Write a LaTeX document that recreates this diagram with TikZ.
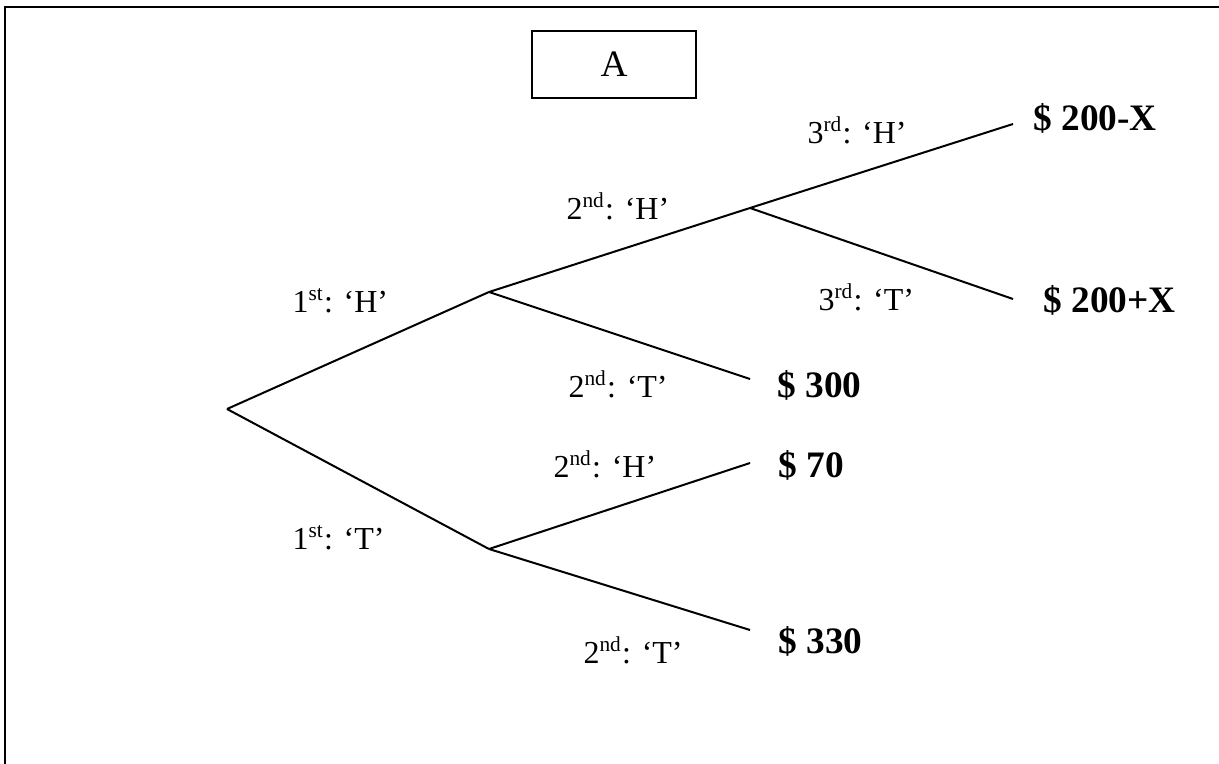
\documentclass[tikz,border=0pt]{standalone}
\usepackage{fontspec}
\setmainfont{Liberation Serif}
\begin{document}
\begin{tikzpicture}[x=0.375pt,y=-0.375pt,
  branch/.style={line width=0.75pt},
  lbl/.style={anchor=base west,inner sep=0pt,font=\fontsize{12}{14}\selectfont},
  pay/.style={anchor=base west,inner sep=0pt,font=\fontsize{14}{16}\selectfont\bfseries},
  framebox/.style={line width=0.8pt},
  titlebox/.style={draw,line width=0.6pt,minimum width=61.5pt,minimum height=25pt,inner sep=0pt,font=\fontsize{14}{16}\selectfont}]
\useasboundingbox (0,0) rectangle (1219,764);
% outer frame (top and left edges only)
\coordinate (fbl) at (5,764);
\coordinate (ftl) at (5,7);
\coordinate (ftr) at (1219,7);
\draw[framebox] (fbl) -- (ftl) -- (ftr);
% title box
\node[titlebox] (boxA) at (614,64.5) {A};
% tree points
\coordinate (root) at (227,409);
\coordinate (h1) at (489,292);
\coordinate (t1) at (489,549);
\coordinate (h2) at (750,208);
\coordinate (e3h) at (1013,124);
\coordinate (e3t) at (1013,299);
\coordinate (e2t) at (750,379);
\coordinate (e2h) at (750,463);
\coordinate (e2tt) at (750,630);
\draw[branch] (root) -- (h1);
\draw[branch] (root) -- (t1);
\draw[branch] (h1) -- (h2);
\draw[branch] (h1) -- (e2t);
\draw[branch] (h2) -- (e3h);
\draw[branch] (h2) -- (e3t);
\draw[branch] (t1) -- (e2h);
\draw[branch] (t1) -- (e2tt);
% branch labels
\node[lbl] (l3h) at (807,143) {3\textsuperscript{rd}: ‘H’};
\node[lbl] (l2h) at (566,219) {2\textsuperscript{nd}: ‘H’};
\node[lbl] (l1h) at (292,312) {1\textsuperscript{st}: ‘H’};
\node[lbl] (l3t) at (818,310) {3\textsuperscript{rd}: ‘T’};
\node[lbl] (l2t) at (568,397) {2\textsuperscript{nd}: ‘T’};
\node[lbl] (l2h2) at (553,477) {2\textsuperscript{nd}: ‘H’};
\node[lbl] (l1t) at (292,549) {1\textsuperscript{st}: ‘T’};
\node[lbl] (l2t2) at (583,663) {2\textsuperscript{nd}: ‘T’};
% payoffs
\node[pay] (p1) at (1033,130) {\$ 200-X};
\node[pay] (p2) at (1043,312) {\$ 200+X};
\node[pay] (p3) at (777,397) {\$ 300};
\node[pay] (p4) at (778,477) {\$ 70};
\node[pay] (p5) at (778,653) {\$ 330};
\end{tikzpicture}
\end{document}
